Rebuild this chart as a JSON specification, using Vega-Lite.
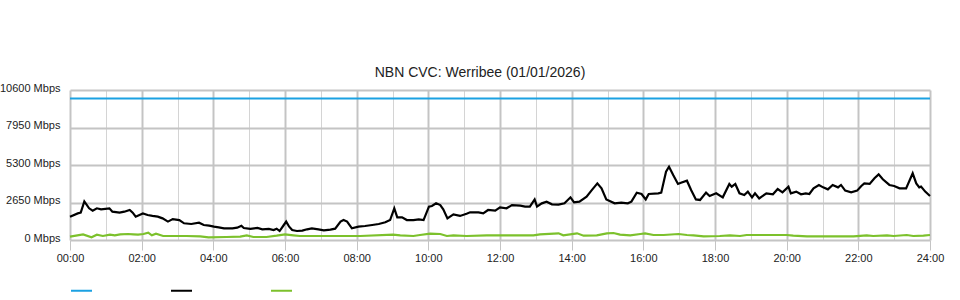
{
  "$schema": "https://vega.github.io/schema/vega-lite/v6.json",
  "autosize": "none",
  "width": 860,
  "height": 150,
  "padding": {"left": 70, "top": 90, "right": 30, "bottom": 60},
  "background": "white",
  "title": {"text": "NBN CVC: Werribee (01/01/2026)", "font": "Liberation Sans", "fontSize": 14, "fontWeight": "normal", "color": "#222", "frame": "group", "offset": 2, "dx": -20},
  "config": {"view": {"stroke": null}, "font": "Liberation Sans"},
  "data": {"values": [
    {"series": "Capacity", "minute": 0, "mbps": 10000},
    {"series": "Capacity", "minute": 1440, "mbps": 10000},
    {"series": "Download", "minute": 0, "mbps": 1650},
    {"series": "Download", "minute": 13, "mbps": 1880},
    {"series": "Download", "minute": 18, "mbps": 1930},
    {"series": "Download", "minute": 24, "mbps": 2730},
    {"series": "Download", "minute": 32, "mbps": 2240},
    {"series": "Download", "minute": 38, "mbps": 2070},
    {"series": "Download", "minute": 45, "mbps": 2240},
    {"series": "Download", "minute": 52, "mbps": 2170},
    {"series": "Download", "minute": 66, "mbps": 2240},
    {"series": "Download", "minute": 71, "mbps": 2000},
    {"series": "Download", "minute": 83, "mbps": 1930},
    {"series": "Download", "minute": 91, "mbps": 2000},
    {"series": "Download", "minute": 100, "mbps": 2120},
    {"series": "Download", "minute": 105, "mbps": 1930},
    {"series": "Download", "minute": 110, "mbps": 1650},
    {"series": "Download", "minute": 122, "mbps": 1880},
    {"series": "Download", "minute": 130, "mbps": 1770},
    {"series": "Download", "minute": 138, "mbps": 1700},
    {"series": "Download", "minute": 147, "mbps": 1650},
    {"series": "Download", "minute": 155, "mbps": 1530},
    {"series": "Download", "minute": 164, "mbps": 1300},
    {"series": "Download", "minute": 172, "mbps": 1480},
    {"series": "Download", "minute": 183, "mbps": 1410},
    {"series": "Download", "minute": 191, "mbps": 1180},
    {"series": "Download", "minute": 203, "mbps": 1130},
    {"series": "Download", "minute": 216, "mbps": 1225},
    {"series": "Download", "minute": 224, "mbps": 1060},
    {"series": "Download", "minute": 233, "mbps": 1010},
    {"series": "Download", "minute": 241, "mbps": 940},
    {"series": "Download", "minute": 249, "mbps": 895},
    {"series": "Download", "minute": 258, "mbps": 825},
    {"series": "Download", "minute": 272, "mbps": 825},
    {"series": "Download", "minute": 280, "mbps": 870},
    {"series": "Download", "minute": 287, "mbps": 1010},
    {"series": "Download", "minute": 291, "mbps": 850},
    {"series": "Download", "minute": 302, "mbps": 780},
    {"series": "Download", "minute": 314, "mbps": 850},
    {"series": "Download", "minute": 322, "mbps": 755},
    {"series": "Download", "minute": 333, "mbps": 780},
    {"series": "Download", "minute": 341, "mbps": 705},
    {"series": "Download", "minute": 346, "mbps": 800},
    {"series": "Download", "minute": 351, "mbps": 635},
    {"series": "Download", "minute": 358, "mbps": 1060},
    {"series": "Download", "minute": 362, "mbps": 1300},
    {"series": "Download", "minute": 367, "mbps": 940},
    {"series": "Download", "minute": 372, "mbps": 705},
    {"series": "Download", "minute": 380, "mbps": 635},
    {"series": "Download", "minute": 389, "mbps": 660},
    {"series": "Download", "minute": 397, "mbps": 755},
    {"series": "Download", "minute": 405, "mbps": 825},
    {"series": "Download", "minute": 416, "mbps": 755},
    {"series": "Download", "minute": 425, "mbps": 685},
    {"series": "Download", "minute": 436, "mbps": 730},
    {"series": "Download", "minute": 444, "mbps": 800},
    {"series": "Download", "minute": 453, "mbps": 1300},
    {"series": "Download", "minute": 458, "mbps": 1410},
    {"series": "Download", "minute": 464, "mbps": 1300},
    {"series": "Download", "minute": 472, "mbps": 825},
    {"series": "Download", "minute": 483, "mbps": 940},
    {"series": "Download", "minute": 494, "mbps": 990},
    {"series": "Download", "minute": 506, "mbps": 1060},
    {"series": "Download", "minute": 517, "mbps": 1130},
    {"series": "Download", "minute": 528, "mbps": 1250},
    {"series": "Download", "minute": 536, "mbps": 1410},
    {"series": "Download", "minute": 543, "mbps": 2240},
    {"series": "Download", "minute": 548, "mbps": 1600},
    {"series": "Download", "minute": 556, "mbps": 1600},
    {"series": "Download", "minute": 564, "mbps": 1410},
    {"series": "Download", "minute": 575, "mbps": 1410},
    {"series": "Download", "minute": 584, "mbps": 1460},
    {"series": "Download", "minute": 592, "mbps": 1410},
    {"series": "Download", "minute": 601, "mbps": 2360},
    {"series": "Download", "minute": 606, "mbps": 2400},
    {"series": "Download", "minute": 613, "mbps": 2590},
    {"series": "Download", "minute": 620, "mbps": 2470},
    {"series": "Download", "minute": 625, "mbps": 2170},
    {"series": "Download", "minute": 632, "mbps": 1530},
    {"series": "Download", "minute": 642, "mbps": 1810},
    {"series": "Download", "minute": 653, "mbps": 1700},
    {"series": "Download", "minute": 664, "mbps": 1860},
    {"series": "Download", "minute": 670, "mbps": 1955},
    {"series": "Download", "minute": 684, "mbps": 1955},
    {"series": "Download", "minute": 692, "mbps": 1880},
    {"series": "Download", "minute": 700, "mbps": 2120},
    {"series": "Download", "minute": 712, "mbps": 2070},
    {"series": "Download", "minute": 720, "mbps": 2310},
    {"series": "Download", "minute": 731, "mbps": 2240},
    {"series": "Download", "minute": 740, "mbps": 2470},
    {"series": "Download", "minute": 754, "mbps": 2430},
    {"series": "Download", "minute": 762, "mbps": 2360},
    {"series": "Download", "minute": 770, "mbps": 2360},
    {"series": "Download", "minute": 778, "mbps": 2870},
    {"series": "Download", "minute": 782, "mbps": 2360},
    {"series": "Download", "minute": 790, "mbps": 2590},
    {"series": "Download", "minute": 798, "mbps": 2710},
    {"series": "Download", "minute": 807, "mbps": 2520},
    {"series": "Download", "minute": 818, "mbps": 2500},
    {"series": "Download", "minute": 828, "mbps": 2590},
    {"series": "Download", "minute": 838, "mbps": 3015},
    {"series": "Download", "minute": 844, "mbps": 2660},
    {"series": "Download", "minute": 853, "mbps": 2710},
    {"series": "Download", "minute": 865, "mbps": 3060},
    {"series": "Download", "minute": 873, "mbps": 3490},
    {"series": "Download", "minute": 883, "mbps": 4000},
    {"series": "Download", "minute": 890, "mbps": 3650},
    {"series": "Download", "minute": 898, "mbps": 2870},
    {"series": "Download", "minute": 912, "mbps": 2590},
    {"series": "Download", "minute": 923, "mbps": 2640},
    {"series": "Download", "minute": 934, "mbps": 2590},
    {"series": "Download", "minute": 940, "mbps": 2710},
    {"series": "Download", "minute": 949, "mbps": 3345},
    {"series": "Download", "minute": 957, "mbps": 3250},
    {"series": "Download", "minute": 964, "mbps": 2870},
    {"series": "Download", "minute": 969, "mbps": 3250},
    {"series": "Download", "minute": 985, "mbps": 3300},
    {"series": "Download", "minute": 990, "mbps": 3345},
    {"series": "Download", "minute": 998, "mbps": 4830},
    {"series": "Download", "minute": 1003, "mbps": 5180},
    {"series": "Download", "minute": 1010, "mbps": 4590},
    {"series": "Download", "minute": 1018, "mbps": 3960},
    {"series": "Download", "minute": 1023, "mbps": 4050},
    {"series": "Download", "minute": 1033, "mbps": 4190},
    {"series": "Download", "minute": 1040, "mbps": 3530},
    {"series": "Download", "minute": 1048, "mbps": 2870},
    {"series": "Download", "minute": 1055, "mbps": 2830},
    {"series": "Download", "minute": 1065, "mbps": 3345},
    {"series": "Download", "minute": 1071, "mbps": 3110},
    {"series": "Download", "minute": 1082, "mbps": 3300},
    {"series": "Download", "minute": 1093, "mbps": 3015},
    {"series": "Download", "minute": 1104, "mbps": 3960},
    {"series": "Download", "minute": 1108, "mbps": 3770},
    {"series": "Download", "minute": 1114, "mbps": 3960},
    {"series": "Download", "minute": 1121, "mbps": 3300},
    {"series": "Download", "minute": 1129, "mbps": 3180},
    {"series": "Download", "minute": 1135, "mbps": 3420},
    {"series": "Download", "minute": 1142, "mbps": 3015},
    {"series": "Download", "minute": 1147, "mbps": 3300},
    {"series": "Download", "minute": 1154, "mbps": 2940},
    {"series": "Download", "minute": 1166, "mbps": 3300},
    {"series": "Download", "minute": 1177, "mbps": 3230},
    {"series": "Download", "minute": 1185, "mbps": 3600},
    {"series": "Download", "minute": 1193, "mbps": 3370},
    {"series": "Download", "minute": 1203, "mbps": 3770},
    {"series": "Download", "minute": 1207, "mbps": 3300},
    {"series": "Download", "minute": 1216, "mbps": 3420},
    {"series": "Download", "minute": 1224, "mbps": 3230},
    {"series": "Download", "minute": 1232, "mbps": 3300},
    {"series": "Download", "minute": 1238, "mbps": 3250},
    {"series": "Download", "minute": 1245, "mbps": 3650},
    {"series": "Download", "minute": 1254, "mbps": 3890},
    {"series": "Download", "minute": 1261, "mbps": 3720},
    {"series": "Download", "minute": 1269, "mbps": 3580},
    {"series": "Download", "minute": 1277, "mbps": 3890},
    {"series": "Download", "minute": 1286, "mbps": 3720},
    {"series": "Download", "minute": 1291, "mbps": 3890},
    {"series": "Download", "minute": 1298, "mbps": 3490},
    {"series": "Download", "minute": 1308, "mbps": 3370},
    {"series": "Download", "minute": 1318, "mbps": 3490},
    {"series": "Download", "minute": 1325, "mbps": 3820},
    {"series": "Download", "minute": 1330, "mbps": 4000},
    {"series": "Download", "minute": 1339, "mbps": 3960},
    {"series": "Download", "minute": 1347, "mbps": 4360},
    {"series": "Download", "minute": 1354, "mbps": 4640},
    {"series": "Download", "minute": 1361, "mbps": 4290},
    {"series": "Download", "minute": 1372, "mbps": 3890},
    {"series": "Download", "minute": 1380, "mbps": 3820},
    {"series": "Download", "minute": 1389, "mbps": 3650},
    {"series": "Download", "minute": 1400, "mbps": 3650},
    {"series": "Download", "minute": 1411, "mbps": 4710},
    {"series": "Download", "minute": 1417, "mbps": 4000},
    {"series": "Download", "minute": 1422, "mbps": 3720},
    {"series": "Download", "minute": 1425, "mbps": 3770},
    {"series": "Download", "minute": 1432, "mbps": 3420},
    {"series": "Download", "minute": 1440, "mbps": 3110},
    {"series": "Upload", "minute": 0, "mbps": 235},
    {"series": "Upload", "minute": 22, "mbps": 400},
    {"series": "Upload", "minute": 36, "mbps": 190},
    {"series": "Upload", "minute": 45, "mbps": 377},
    {"series": "Upload", "minute": 55, "mbps": 283},
    {"series": "Upload", "minute": 67, "mbps": 377},
    {"series": "Upload", "minute": 75, "mbps": 330},
    {"series": "Upload", "minute": 84, "mbps": 400},
    {"series": "Upload", "minute": 97, "mbps": 424},
    {"series": "Upload", "minute": 106, "mbps": 400},
    {"series": "Upload", "minute": 114, "mbps": 377},
    {"series": "Upload", "minute": 123, "mbps": 424},
    {"series": "Upload", "minute": 131, "mbps": 518},
    {"series": "Upload", "minute": 137, "mbps": 330},
    {"series": "Upload", "minute": 144, "mbps": 447},
    {"series": "Upload", "minute": 156, "mbps": 283},
    {"series": "Upload", "minute": 195, "mbps": 283},
    {"series": "Upload", "minute": 218, "mbps": 260},
    {"series": "Upload", "minute": 232, "mbps": 190},
    {"series": "Upload", "minute": 262, "mbps": 212},
    {"series": "Upload", "minute": 285, "mbps": 235},
    {"series": "Upload", "minute": 296, "mbps": 330},
    {"series": "Upload", "minute": 307, "mbps": 212},
    {"series": "Upload", "minute": 329, "mbps": 212},
    {"series": "Upload", "minute": 346, "mbps": 306},
    {"series": "Upload", "minute": 360, "mbps": 400},
    {"series": "Upload", "minute": 374, "mbps": 330},
    {"series": "Upload", "minute": 385, "mbps": 283},
    {"series": "Upload", "minute": 419, "mbps": 283},
    {"series": "Upload", "minute": 486, "mbps": 283},
    {"series": "Upload", "minute": 541, "mbps": 377},
    {"series": "Upload", "minute": 553, "mbps": 330},
    {"series": "Upload", "minute": 575, "mbps": 283},
    {"series": "Upload", "minute": 586, "mbps": 353},
    {"series": "Upload", "minute": 603, "mbps": 447},
    {"series": "Upload", "minute": 620, "mbps": 424},
    {"series": "Upload", "minute": 631, "mbps": 283},
    {"series": "Upload", "minute": 642, "mbps": 330},
    {"series": "Upload", "minute": 664, "mbps": 283},
    {"series": "Upload", "minute": 698, "mbps": 330},
    {"series": "Upload", "minute": 731, "mbps": 330},
    {"series": "Upload", "minute": 776, "mbps": 330},
    {"series": "Upload", "minute": 787, "mbps": 400},
    {"series": "Upload", "minute": 818, "mbps": 471},
    {"series": "Upload", "minute": 826, "mbps": 330},
    {"series": "Upload", "minute": 849, "mbps": 471},
    {"series": "Upload", "minute": 860, "mbps": 306},
    {"series": "Upload", "minute": 882, "mbps": 330},
    {"series": "Upload", "minute": 899, "mbps": 471},
    {"series": "Upload", "minute": 910, "mbps": 495},
    {"series": "Upload", "minute": 921, "mbps": 377},
    {"series": "Upload", "minute": 938, "mbps": 330},
    {"series": "Upload", "minute": 955, "mbps": 424},
    {"series": "Upload", "minute": 963, "mbps": 471},
    {"series": "Upload", "minute": 977, "mbps": 353},
    {"series": "Upload", "minute": 994, "mbps": 353},
    {"series": "Upload", "minute": 1019, "mbps": 424},
    {"series": "Upload", "minute": 1033, "mbps": 353},
    {"series": "Upload", "minute": 1044, "mbps": 330},
    {"series": "Upload", "minute": 1061, "mbps": 260},
    {"series": "Upload", "minute": 1088, "mbps": 283},
    {"series": "Upload", "minute": 1105, "mbps": 330},
    {"series": "Upload", "minute": 1122, "mbps": 283},
    {"series": "Upload", "minute": 1133, "mbps": 353},
    {"series": "Upload", "minute": 1178, "mbps": 353},
    {"series": "Upload", "minute": 1200, "mbps": 353},
    {"series": "Upload", "minute": 1211, "mbps": 306},
    {"series": "Upload", "minute": 1234, "mbps": 260},
    {"series": "Upload", "minute": 1267, "mbps": 260},
    {"series": "Upload", "minute": 1312, "mbps": 260},
    {"series": "Upload", "minute": 1334, "mbps": 330},
    {"series": "Upload", "minute": 1345, "mbps": 283},
    {"series": "Upload", "minute": 1368, "mbps": 330},
    {"series": "Upload", "minute": 1379, "mbps": 283},
    {"series": "Upload", "minute": 1401, "mbps": 353},
    {"series": "Upload", "minute": 1412, "mbps": 283},
    {"series": "Upload", "minute": 1429, "mbps": 306},
    {"series": "Upload", "minute": 1440, "mbps": 353}
  ]},
  "mark": {"type": "line", "strokeWidth": 2.2, "interpolate": "linear"},
  "encoding": {
    "x": {
      "field": "minute", "type": "quantitative",
      "scale": {"domain": [0, 1440], "nice": false, "zero": false},
      "axis": {
        "title": null,
        "values": [0,60,120,180,240,300,360,420,480,540,600,660,720,780,840,900,960,1020,1080,1140,1200,1260,1320,1380,1440],
        "labelExpr": "datum.value % 120 === 0 ? (datum.value < 600 ? '0' : '') + floor(datum.value / 60) + ':00' : ''",
        "labelFlush": false,
        "labelFont": "Liberation Sans", "labelFontSize": 11, "labelColor": "#222",
        "labelPadding": 2,
        "domain": false,
        "tickSize": 10,
        "tickColor": "#c4c4c4",
        "tickWidth": 1,
        "tickOpacity": {"condition": {"test": "datum.value % 120 === 0", "value": 1}, "value": 0},
        "grid": true,
        "gridColor": {"condition": {"test": "datum.value % 120 === 0", "value": "#c4c4c4"}, "value": "#d4d4d4"},
        "gridWidth": {"condition": {"test": "datum.value % 120 === 0", "value": 2}, "value": 1},
        "gridOpacity": 1
      }
    },
    "y": {
      "field": "mbps", "type": "quantitative",
      "scale": {"domain": [0, 10600], "nice": false},
      "axis": {
        "title": null,
        "values": [0, 2650, 5300, 7950, 10600],
        "labelExpr": "datum.value + ' Mbps'",
        "labelFlush": false,
        "labelFont": "Liberation Sans", "labelFontSize": 11, "labelColor": "#222",
        "labelPadding": 10,
        "labelOffset": -2,
        "domain": false,
        "ticks": false,
        "grid": true,
        "gridColor": "#c4c4c4",
        "gridWidth": 2
      }
    },
    "color": {
      "field": "series", "type": "nominal",
      "scale": {"domain": ["Capacity", "Download", "Upload"], "range": ["#1ba1e2", "#000000", "#7cc12c"]},
      "legend": {
        "title": null,
        "orient": "none",
        "legendX": 0,
        "legendY": 189,
        "direction": "horizontal",
        "symbolType": "stroke",
        "symbolSize": 441,
        "symbolStrokeWidth": 2,
        "labelExpr": "''",
        "labelOffset": 0,
        "columnPadding": 71
      }
    }
  }
}
